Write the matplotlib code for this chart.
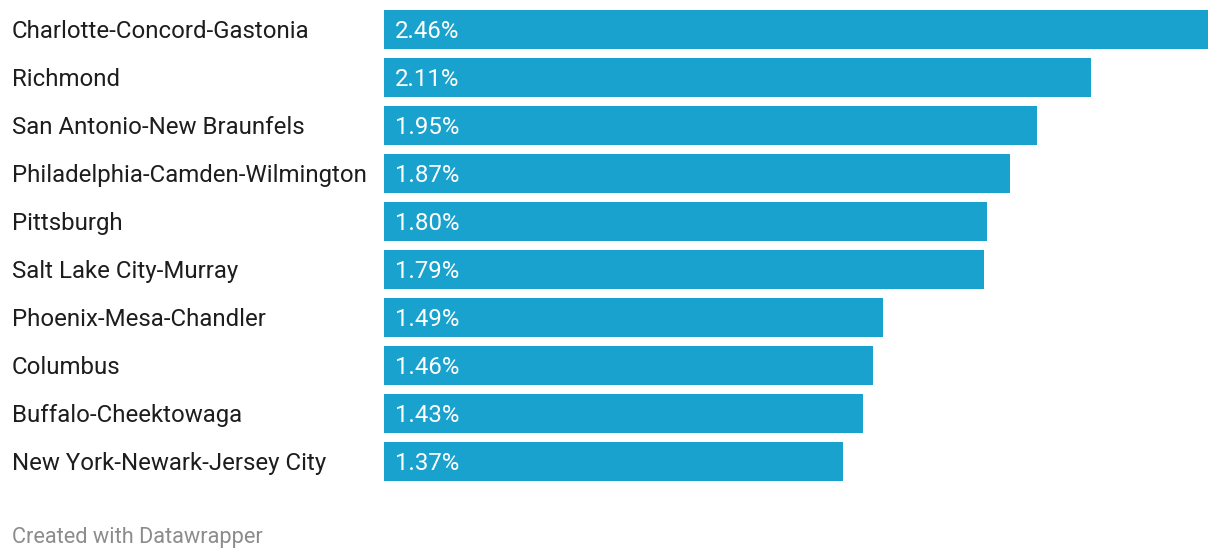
import matplotlib
matplotlib.use("Agg")
import matplotlib.pyplot as plt
from matplotlib.transforms import blended_transform_factory

# data
cities = [
    "Charlotte-Concord-Gastonia",
    "Richmond",
    "San Antonio-New Braunfels",
    "Philadelphia-Camden-Wilmington",
    "Pittsburgh",
    "Salt Lake City-Murray",
    "Phoenix-Mesa-Chandler",
    "Columbus",
    "Buffalo-Cheektowaga",
    "New York-Newark-Jersey City",
]
values = [2.46, 2.11, 1.95, 1.87, 1.80, 1.79, 1.49, 1.46, 1.43, 1.37]

plt.rcParams['font.family'] = ['Roboto', 'DejaVu Sans']

W, H = 1220, 558
fig = plt.figure(figsize=(W / 100, H / 100), dpi=100)
fig.patch.set_facecolor('white')

# axes placed in pixel terms: bars run from x=384 to 1208, rows 48px apart
ax = fig.add_axes([384 / W, 1 - 485.5 / H, 824 / W, 480 / H])
ypos = list(range(len(cities)))
ax.barh(ypos, values, height=0.81, color='#1aa2ce')
ax.set_xlim(0, max(values))
ax.set_ylim(len(cities) - 0.5, -0.5)
ax.axis('off')

trans = blended_transform_factory(fig.transFigure, ax.transData)
for y, name, v in zip(ypos, cities, values):
    ax.text(12 / W, y, name, transform=trans, ha='left', va='center_baseline',
            fontsize=17.25, color='#1d1d1d')
    ax.text(395 / W, y, f"{v:.2f}%", transform=trans,
            ha='left', va='center_baseline', fontsize=17.25, color='white')

fig.text(12 / W, 1 - 535 / H, "Created with Datawrapper", ha='left',
         va='center_baseline', fontsize=15.7, color='#8c8c8c')

fig.savefig("out.png", dpi=100, facecolor='white')
